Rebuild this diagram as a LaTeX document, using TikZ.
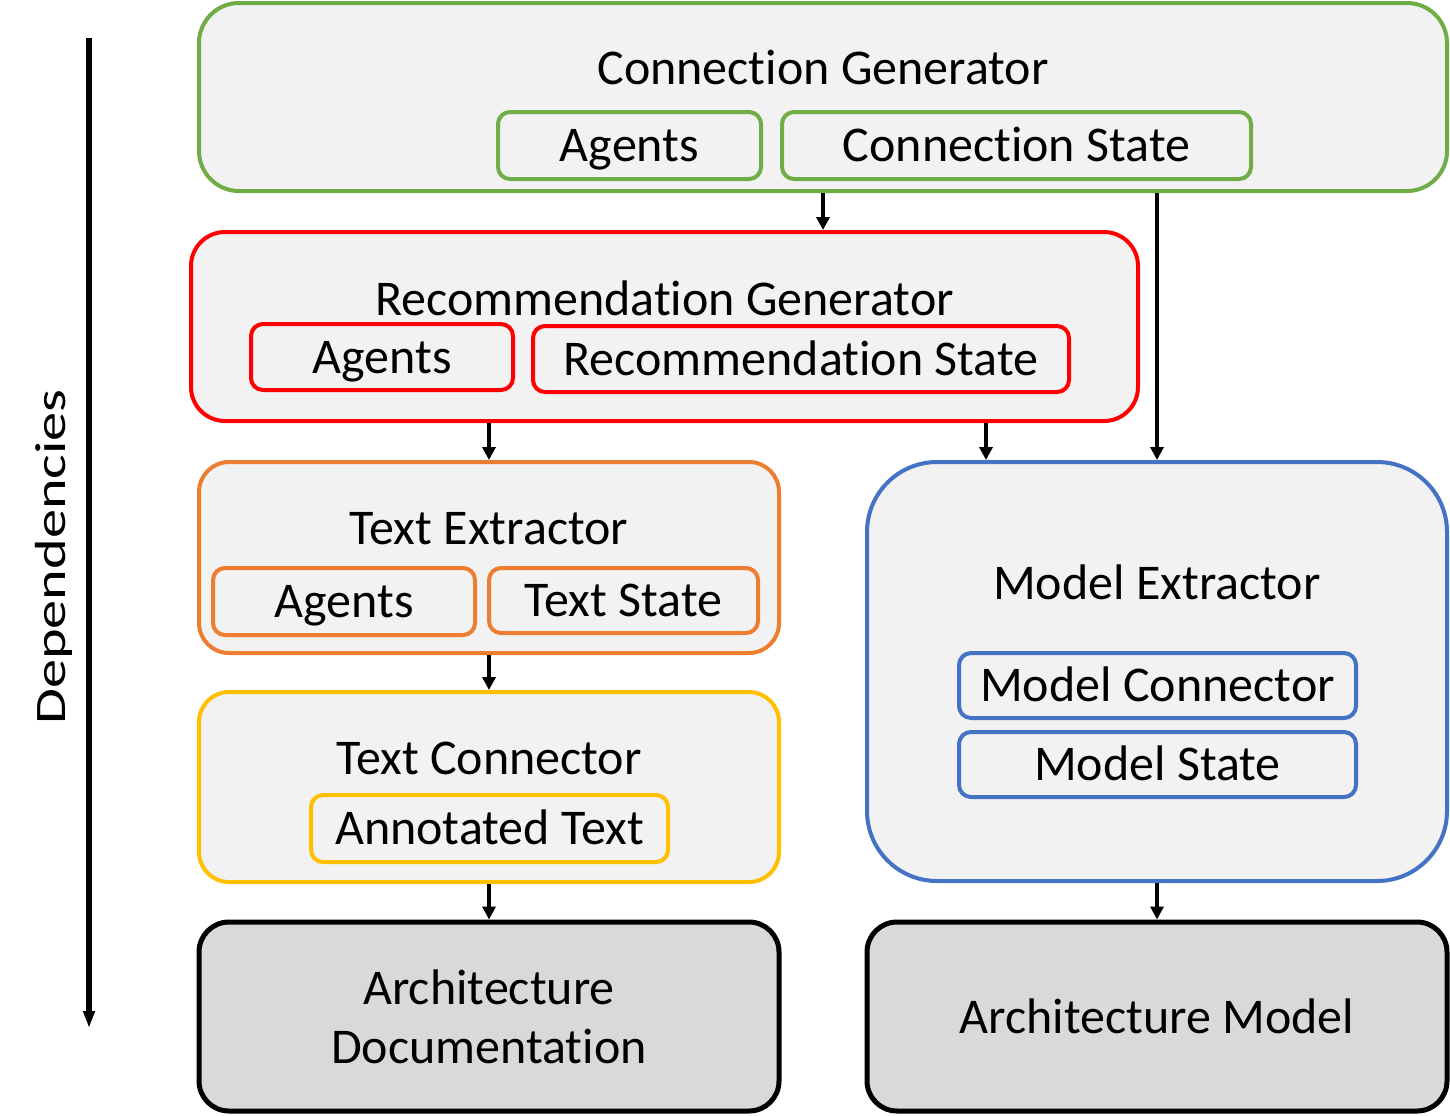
\documentclass[tikz,border=0pt]{standalone}
\usepackage{fontspec}
\setmainfont{Carlito}[Ligatures=NoCommon]
\usetikzlibrary{arrows.meta}
\definecolor{cgreen}{HTML}{70AD47}
\definecolor{cred}{HTML}{FF0000}
\definecolor{corange}{HTML}{ED7D31}
\definecolor{cyellow}{HTML}{FFC000}
\definecolor{cblue}{HTML}{4472C4}
\definecolor{boxfill}{HTML}{F2F2F2}
\definecolor{archfill}{HTML}{D9D9D9}
\tikzset{
  outer/.style={draw=#1, fill=boxfill, line width=2pt, inner sep=0pt},
  inner/.style={draw=#1, fill=boxfill, line width=2pt, rounded corners=6pt, inner sep=0pt, text height=16.1pt, text depth=0pt, font=\fontsize{25}{30}\selectfont},
  title/.style={inner sep=0pt, text height=16.1pt, text depth=0pt, font=\fontsize{25}{30}\selectfont},
  archbox/.style={draw=black, fill=archfill, line width=2.5pt, rounded corners=15pt, inner sep=0pt, align=center, font=\fontsize{25}{29.5}\selectfont, minimum width=290pt, minimum height=94.5pt},
  conn/.style={line width=1.9pt, -{Triangle[length=6.5pt,width=6.5pt]}},
}
\begin{document}
\begin{tikzpicture}[x=0.5pt,y=-0.5pt]
\useasboundingbox (0,0) rectangle (1450,1115);
\fill[white] (0,0) rectangle (1450,1115);
% Connection Generator
\node[outer=cgreen, rounded corners=20pt, minimum width=624pt, minimum height=94pt] (cg) at (823,97) {};
\node[title] (cgt) at (823,68) {Connection Generator};
\node[inner=cgreen, minimum width=131.5pt, minimum height=33.5pt] (cga) at (629.5,145.5) {Agents};
\node[inner=cgreen, minimum width=234.5pt, minimum height=33.5pt] (cgs) at (1016.5,145.5) {Connection State};
% Recommendation Generator
\node[outer=cred, rounded corners=17pt, minimum width=473.5pt, minimum height=94.5pt] (rg) at (664.5,326.5) {};
\node[title] (rgt) at (664.5,299) {Recommendation Generator};
\node[inner=cred, minimum width=131pt, minimum height=33pt] (rga) at (382,357) {Agents};
\node[inner=cred, minimum width=268pt, minimum height=33pt] (rgs) at (801,359) {Recommendation State};
% Text Extractor
\node[outer=corange, rounded corners=15pt, minimum width=290pt, minimum height=95.5pt] (te) at (489,557.5) {};
\node[title] (tet) at (489,528.5) {Text Extractor};
\node[inner=corange, minimum width=131pt, minimum height=33.5pt] (tea) at (344,601.5) {Agents};
\node[inner=corange, minimum width=134.5pt, minimum height=32.5pt] (tes) at (623.5,600.5) {Text State};
% Text Connector
\node[outer=cyellow, rounded corners=15pt, minimum width=290pt, minimum height=95pt] (tc) at (489,787) {};
\node[title] (tct) at (489,758.5) {Text Connector};
\node[inner=cyellow, minimum width=178.5pt, minimum height=33.5pt] (tca) at (489.5,828.5) {Annotated Text};
% Model Extractor
\node[outer=cblue, rounded corners=35pt, minimum width=290pt, minimum height=209.5pt] (me) at (1157,671.5) {};
\node[title] (met) at (1157,583.5) {Model Extractor};
\node[inner=cblue, minimum width=198.5pt, minimum height=32.5pt] (mec) at (1157.5,685.5) {Model Connector};
\node[inner=cblue, minimum width=198.5pt, minimum height=32.5pt] (mes) at (1157.5,764.5) {Model State};
% Architecture
\node[archbox] (ad) at (489,1016.5) {Architecture\\Documentation};
\node[archbox] (am) at (1157,1016.5) {Architecture Model};
% Dependencies
\coordinate (dtop) at (89,38);
\coordinate (dbot) at (89,1028);
\draw[line width=3pt, -{Triangle[length=8.5pt,width=5.5pt]}] (dtop) -- (dbot);
\node[inner sep=0pt, text height=14pt, text depth=0pt, rotate=90, font=\fontsize{21.75}{26}\selectfont] (dep) at (51,557) {\scalebox{1.34}[1]{Dependencies}};
% connectors
\coordinate (x2) at (986,0);
\draw[conn] (cg.south) -- (cg.south |- rg.north);
\draw[conn] (cg.south -| me.north) -- (me.north);
\draw[conn] (rg.south -| te.north) -- (te.north);
\draw[conn] (rg.south -| x2) -- (me.north -| x2);
\draw[conn] (te.south) -- (tc.north);
\draw[conn] (tc.south) -- (ad.north);
\draw[conn] (me.south) -- (am.north);
\end{tikzpicture}
\end{document}
